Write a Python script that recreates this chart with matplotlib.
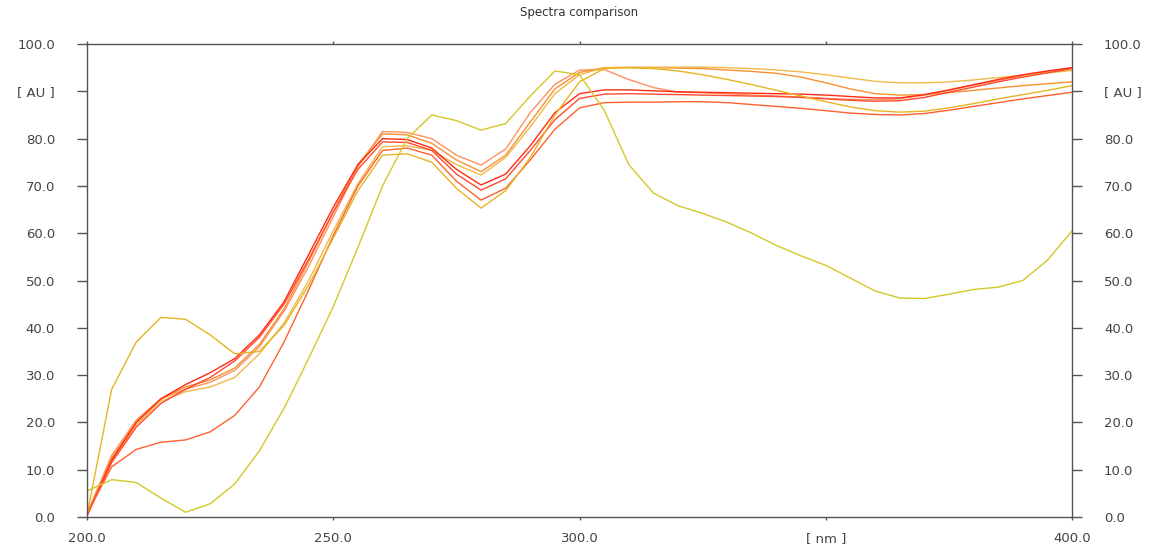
import matplotlib
matplotlib.use("Agg")
from matplotlib import pyplot as plt

# wavelength grid, nm
wavelengths = list(range(200, 401, 5))

# absorbance traces [AU], every 5 nm
trace_a = [0.8, 13, 20.5, 25, 27, 28.5, 31, 36, 43.5, 53, 63.5, 74, 81.5, 81.3, 80, 76.5, 74.4,
           77.8, 85.5, 91.5, 94.5, 94.6, 92.5, 90.8, 89.8, 89.7, 89.5, 89.2, 89, 88.8, 88.5,
           88.3, 88.2, 88.4, 89.2, 90.2, 91.3, 92.3, 93.3, 94.2, 95]
trace_b = [0.5, 12.5, 20, 25, 27.5, 29, 31.5, 36.5, 44, 54, 64.5, 74.5, 81, 80.8, 79, 75.5, 73,
           76.5, 83.5, 90.5, 94, 95, 95, 95, 94.9, 94.8, 94.5, 94.2, 93.8, 93, 91.8,
           90.5, 89.5, 89.2, 89.3, 89.7, 90.2, 90.7, 91.2, 91.6, 92]
trace_c = [0.5, 12, 19.5, 24.5, 26.5, 27.5, 29.5, 34.5, 41, 50, 60.5, 70.5, 78.3, 78.5, 77.5, 74.5, 72.3,
           76, 82.5, 89.5, 93.5, 95, 95.1, 95.1, 95.1, 95.1, 95, 94.8, 94.5, 94.1, 93.5,
           92.8, 92.1, 91.8, 91.8, 92, 92.4, 92.9, 93.4, 93.9, 94.4]
trace_d = [0.3, 12, 20, 25, 28, 30.5, 33.5, 38.5, 45.5, 55.5, 65.5, 74.5, 80, 79.8, 78, 73.5, 70.2,
           72.5, 78.5, 85.5, 89.5, 90.3, 90.3, 90.1, 89.9, 89.8, 89.7, 89.6, 89.5, 89.4, 89.2,
           88.9, 88.6, 88.6, 89.3, 90.3, 91.4, 92.5, 93.5, 94.3, 95]
trace_e = [0.3, 11.5, 19, 24, 27, 29.5, 33, 38, 45, 54.5, 64.5, 73.5, 79.3, 79.2, 77.5, 72.5, 69.1,
           71.5, 77.5, 84, 88.5, 89.4, 89.5, 89.4, 89.3, 89.2, 89.1, 89, 88.9, 88.7, 88.4,
           88.1, 87.9, 88, 88.7, 89.8, 90.9, 92, 93, 93.9, 94.8]
trace_f = [0.7, 10.6, 14.3, 15.8, 16.3, 18, 21.5, 27.5, 37, 48, 59.5, 70, 77.5, 78, 76.5, 71, 67,
           69.5, 75.5, 82, 86.5, 87.6, 87.7, 87.7, 87.8, 87.8, 87.6, 87.2, 86.8, 86.4, 85.9,
           85.4, 85.1, 85, 85.3, 86, 86.8, 87.6, 88.4, 89.1, 89.8]
trace_g = [0.5, 27, 37, 42.2, 41.8, 38.5, 34.5, 35, 40.5, 49, 59, 69, 76.5, 76.8, 75, 69.5, 65.3,
           69, 76, 85, 92, 94.8, 95, 94.8, 94.3, 93.5, 92.5, 91.4, 90.2, 89, 87.8,
           86.7, 85.9, 85.6, 85.8, 86.5, 87.4, 88.4, 89.3, 90.2, 91.2]
trace_y = [5.5, 7.9, 7.3, 4.0, 1.0, 2.8, 7.0, 14.0, 23.0, 33.5, 44.5, 57, 70, 80, 85, 83.8, 81.8,
           83.2, 89, 94.3, 93.5, 86, 74.5, 68.5, 65.8, 64.2, 62.3, 60, 57.4, 55.2, 53.2,
           50.5, 47.8, 46.3, 46.2, 47.1, 48.1, 48.6, 50, 54.3, 60.5]

traces = [trace_a, trace_b, trace_c, trace_d, trace_e, trace_f, trace_g, trace_y]
colors = ["#ff9060", "#f89030", "#f0b848", "#ff2a10", "#ff4a30", "#ff6030", "#e6b422", "#d4c828"]

x_ticks = [200, 250, 300, 350, 400]
x_labels = ["200.0", "250.0", "300.0", "[ nm ]", "400.0"]
y_ticks = [0, 10, 20, 30, 40, 50, 60, 70, 80, 90, 100]
y_labels = ["0.0", "10.0", "20.0", "30.0", "40.0", "50.0", "60.0", "70.0", "80.0", "[ AU ]", "100.0"]

plt.rcParams['font.family'] = ['DejaVu Sans']

fig = plt.figure(figsize=(11.59, 5.46), dpi=100)
ax = fig.add_axes([0.0751, 0.0531, 0.8499, 0.8663])

for trace, color in zip(traces, colors):
    ax.plot(wavelengths, trace, color=color, lw=1.0)

ax.set_xlim(200, 400)
ax.set_ylim(0, 100)
ax.set_xticks(x_ticks)
ax.set_xticklabels(x_labels)
ax.set_yticks(y_ticks)
ax.set_yticklabels(y_labels)

spine_color = "#555555"
for s in ax.spines.values():
    s.set_color(spine_color)
    s.set_linewidth(1.0)

ax.tick_params(axis='y', direction='out', length=7, width=1.0, color=spine_color,
               left=True, right=True, labelleft=True, labelright=True,
               labelsize=9.5, labelcolor="#444444", pad=16)
ax.tick_params(axis='x', direction='out', length=2.5, width=1.0, color=spine_color,
               top=True, bottom=True, labelsize=9.5, labelcolor="#444444", pad=8)

fig.text(0.5, 0.978, "Spectra comparison", ha='center', va='center', fontsize=8.5, color="#333333")

fig.savefig("out.png", dpi=100)
